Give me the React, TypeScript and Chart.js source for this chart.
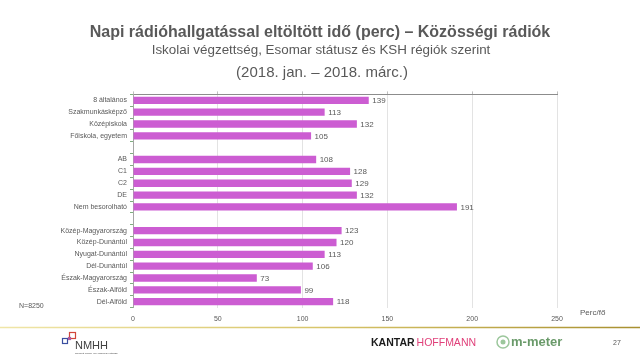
import React, { useEffect, useRef } from "react";
import { Chart, registerables } from "chart.js";

Chart.register(...registerables);

const categories: string[] = [
  "8 általános",
  "Szakmunkásképző",
  "Középiskola",
  "Főiskola, egyetem",
  "",
  "AB",
  "C1",
  "C2",
  "DE",
  "Nem besorolható",
  "",
  "Közép-Magyarország",
  "Közép-Dunántúl",
  "Nyugat-Dunántúl",
  "Dél-Dunántúl",
  "Észak-Magyarország",
  "Észak-Alföld",
  "Dél-Alföld",
];

const minutes: (number | null)[] = [
  139, 113, 132, 105, null, 108, 128, 129, 132, 191, null, 123, 120, 113, 106, 73, 99, 118,
];

const xTicks: number[] = [0, 50, 100, 150, 200, 250];

const titleText = "Napi rádióhallgatással eltöltött idő (perc) – Közösségi rádiók";
const subtitleText = "Iskolai végzettség, Esomar státusz és KSH régiók szerint";
const periodText = "(2018. jan. – 2018. márc.)";
const sampleText = "N=8250";
const unitText = "Perc/fő";
const pageNumber = "27";

const FONT = "'Liberation Sans', Arial, sans-serif";
const GRAY = "#595959";
const BAR = "#CC5DD2";

const decorPlugin = {
  id: "decor",
  afterDatasetsDraw(chart: any) {
    const ctx = chart.ctx;
    const meta = chart.getDatasetMeta(0);
    ctx.save();
    ctx.font = `8px ${FONT}`;
    ctx.fillStyle = GRAY;
    ctx.textBaseline = "middle";
    ctx.textAlign = "left";
    meta.data.forEach((el: any, i: number) => {
      const v = minutes[i];
      if (v == null) return;
      ctx.fillText(String(v), el.x + 3.5, el.y + 0.5);
    });
    ctx.restore();
  },
  afterDraw(chart: any) {
    const ctx = chart.ctx;
    const { chartArea } = chart;
    ctx.save();
    ctx.textAlign = "center";
    ctx.textBaseline = "middle";
    ctx.fillStyle = GRAY;
    ctx.font = `bold 16px ${FONT}`;
    ctx.fillText(titleText, 320, 32.5);
    ctx.font = `13.4px ${FONT}`;
    ctx.fillText(subtitleText, 321, 50);
    ctx.font = `15px ${FONT}`;
    ctx.fillText(periodText, 322, 73);

    ctx.font = `7px ${FONT}`;
    ctx.textAlign = "left";
    ctx.fillText(sampleText, 19, 306);
    ctx.font = `8px ${FONT}`;
    ctx.fillText(unitText, chartArea.right + 23, 313);

    // golden separator line
    const g = ctx.createLinearGradient(0, 0, 640, 0);
    g.addColorStop(0, "#F0E6A8");
    g.addColorStop(0.5, "#D8C56A");
    g.addColorStop(1, "#A89030");
    ctx.strokeStyle = g;
    ctx.lineWidth = 1.5;
    ctx.beginPath();
    ctx.moveTo(0, 327.5);
    ctx.lineTo(640, 327.5);
    ctx.stroke();

    // NMHH logo
    ctx.lineWidth = 1.2;
    ctx.strokeStyle = "#3A4FA0";
    ctx.strokeRect(62.5, 338.5, 5, 5);
    ctx.strokeStyle = "#D2463A";
    ctx.strokeRect(69.5, 332.5, 6, 6);
    ctx.strokeStyle = "#B05AA0";
    ctx.strokeRect(68.5, 337.5, 2, 2);
    ctx.fillStyle = "#404040";
    ctx.font = `11px ${FONT}`;
    ctx.textAlign = "left";
    ctx.fillText("NMHH", 75, 346);
    ctx.font = `2.5px ${FONT}`;
    ctx.fillText("Nemzeti Média- és Hírközlési Hatóság", 75, 353);

    // Kantar Hoffmann
    ctx.font = `bold 10.5px ${FONT}`;
    ctx.fillStyle = "#1A1A1A";
    ctx.fillText("KANTAR", 371, 343);
    const kw = ctx.measureText("KANTAR").width;
    ctx.font = `10.5px ${FONT}`;
    ctx.fillStyle = "#E0407A";
    ctx.fillText("HOFFMANN", 371 + kw + 2, 343);

    // m-meter
    ctx.strokeStyle = "#9CC79C";
    ctx.lineWidth = 1.5;
    ctx.beginPath();
    ctx.arc(503, 342, 6, 0, Math.PI * 2);
    ctx.stroke();
    ctx.fillStyle = "#9CC79C";
    ctx.beginPath();
    ctx.arc(503, 342, 2.5, 0, Math.PI * 2);
    ctx.fill();
    ctx.font = `bold 13px ${FONT}`;
    ctx.fillStyle = "#6A9A6A";
    ctx.fillText("m-meter", 511, 342);

    ctx.font = `7px ${FONT}`;
    ctx.fillStyle = GRAY;
    ctx.fillText(pageNumber, 613, 343);
    ctx.restore();
  },
};

export default function App() {
  const ref = useRef<HTMLCanvasElement | null>(null);
  useEffect(() => {
    document.body.style.margin = "0";
    const canvas = ref.current;
    if (!canvas) return;
    const chart = new Chart(canvas, {
      type: "bar",
      data: {
        labels: categories,
        datasets: [
          {
            data: minutes as any,
            backgroundColor: BAR,
            borderWidth: 0,
            barPercentage: 0.62,
            categoryPercentage: 1,
          },
        ],
      },
      options: {
        indexAxis: "y",
        animation: false,
        responsive: false,
        maintainAspectRatio: false,
        layout: { padding: { left: 0, right: 83, top: 0, bottom: 0 } },
        plugins: {
          legend: { display: false },
          tooltip: { enabled: false },
          title: { display: false },
        },
        scales: {
          x: {
            min: 0,
            max: 250,
            position: "bottom",
            afterBuildTicks: (scale: any) => {
              scale.ticks = xTicks.map((v) => ({ value: v }));
            },
            afterFit: (scale: any) => {
              scale.height = 52.4;
            },
            border: { display: false },
            grid: {
              color: "#E3E3E3",
              lineWidth: 1,
              drawTicks: false,
            },
            ticks: {
              color: GRAY,
              font: { family: FONT, size: 7 },
              padding: 7,
              maxRotation: 0,
            },
          },
          x2: {
            type: "linear",
            min: 0,
            max: 250,
            position: "top",
            afterBuildTicks: (scale: any) => {
              scale.ticks = xTicks.map((v) => ({ value: v }));
            },
            afterFit: (scale: any) => {
              scale.height = 94.4;
            },
            border: { display: true, color: "#8C8C8C", width: 1 },
            grid: {
              drawOnChartArea: false,
              drawTicks: true,
              tickLength: 3,
              color: "#BFBFBF",
            },
            ticks: { display: false },
          },
          y: {
            afterFit: (scale: any) => {
              scale.width = 133;
            },
            border: { display: true, color: "#A6A6A6", width: 1 },
            grid: {
              drawOnChartArea: false,
              drawTicks: true,
              tickLength: 3,
              color: "#7FAF7F",
              offset: true,
            },
            ticks: {
              color: GRAY,
              font: { family: FONT, size: 7 },
              padding: 3,
              autoSkip: false,
            },
          },
        },
      },
      plugins: [decorPlugin],
    });
    return () => chart.destroy();
  }, []);
  return (
    <div style={{ width: 640, height: 360 }}>
      <canvas ref={ref} width={640} height={360} style={{ display: "block", width: 640, height: 360 }} />
    </div>
  );
}
